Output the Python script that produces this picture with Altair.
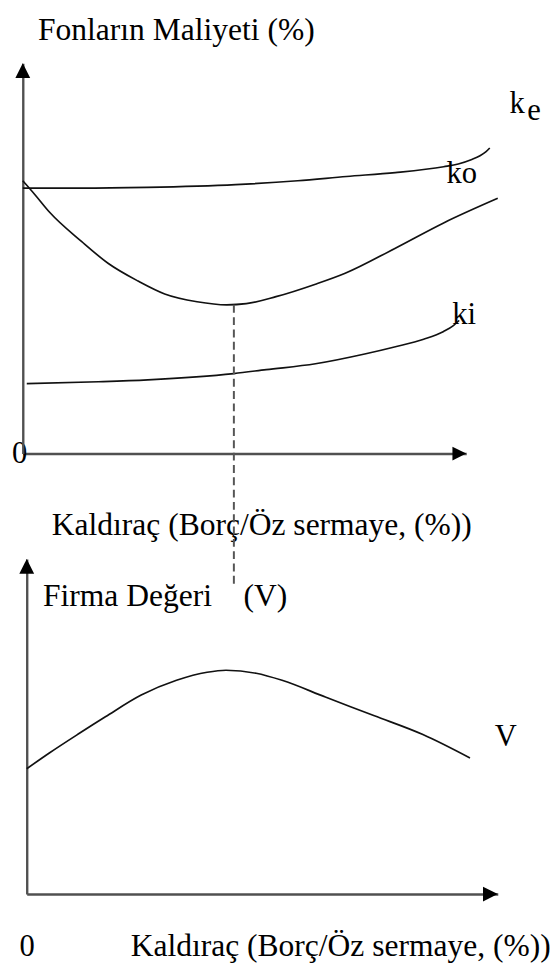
import altair as alt
import pandas as pd

# ---------------- data ----------------
# Top panel: leverage (0-100 along the x axis) vs cost of funds (0-100 up the y axis)
ke_x = [0, 13, 28, 48, 62, 73, 84, 94.9, 98.2, 101.1, 103.1, 104.4, 105.3]
ke_y = [68, 68, 68.2, 68.9, 69.9, 71, 72, 73.5, 74.2, 75.3, 76.3, 77.3, 78.3]

ko_x = [0, 2.7, 6, 13.3, 19.3, 26, 32, 39.3, 46, 50.4, 57.1, 66, 72.7, 83.8, 94.9, 107.1]
ko_y = [69.9, 66.4, 61.9, 54.3, 48.7, 44.2, 40.9, 38.9, 38.1, 38.4, 40.2, 43.4, 46.2, 52.5, 59.1, 65.4]

ki_x = [0.9, 17.1, 28.2, 47.6, 54.9, 66, 77.1, 83.8, 90.4, 94.9, 97.1, 98.4]
ki_y = [17.9, 18.4, 18.9, 20.5, 21.5, 23.0, 25.5, 27.3, 29.3, 31.3, 32.8, 34.1]

# optimal leverage (dashed guide) and how far below the axis it runs
opt_x = [47.6]
opt_bottom = [-33.8]

# Bottom panel: leverage vs firm value
v_x = [0, 4.8, 11.1, 16.7, 24.3, 31.8, 38.3, 42.3, 48.7, 54.2, 63.4, 73.8, 84.1, 94.1]
v_y = [37.4, 42.1, 47.9, 52.9, 59.4, 63.8, 66.2, 66.8, 65.9, 63.8, 58.8, 53.2, 47.6, 40.6]

# text
title_top_y = "Fonların Maliyeti (%)"
title_x = "Kaldıraç (Borç/Öz sermaye, (%))"
title_bot_y = "Firma Değeri\u00a0\u00a0\u00a0\u00a0(V)"
zero_label = "0"

# ---------------- styling ----------------
FONT = "Liberation Serif"
AX_COLOR = "#505050"
LINE_COLOR = "#111111"

TOP_X_RANGE = [15, 465]
TOP_Y_RANGE = [445, 49]
BOT_X_RANGE = [19, 497]
BOT_Y_RANGE = [892, 552]
W, H = 551, 966

common_axis = dict(
    domain=True, domainColor=AX_COLOR, domainWidth=2.4,
    ticks=False, tickSize=0, grid=False,
    labelFont=FONT, labelFontSize=31, labelColor="black", labelFlush=False,
    titleFont=FONT, titleFontSize=32, titleFontWeight="normal", titleColor="black",
    titleAngle=0, titleAlign="left", titleBaseline="alphabetic",
)

top_x_axis = alt.Axis(orient="bottom", offset=TOP_Y_RANGE[0] - H, labels=False,
                      title=title_x, titleX=44, titleY=82, **common_axis)
top_y_axis = alt.Axis(orient="left", offset=-TOP_X_RANGE[0], values=[0],
                      labelExpr=f"'{zero_label}'", labelPadding=-4,
                      title=title_top_y, titleX=15, titleY=25, **common_axis)
bot_x_axis = alt.Axis(orient="bottom", offset=BOT_Y_RANGE[0] - H, values=[0],
                      labelExpr=f"'{zero_label}'", labelPadding=62, labelBaseline="alphabetic",
                      title=title_x, titleX=124, titleY=62, **common_axis)
bot_y_axis = alt.Axis(orient="left", offset=-BOT_X_RANGE[0], labels=False,
                      title=title_bot_y, titleX=16, titleY=599, **common_axis)


def tx(field="x"):
    return alt.X(field, type="quantitative",
                 scale=alt.Scale(domain=[0, 100], range=TOP_X_RANGE, nice=False, zero=False),
                 axis=top_x_axis)


def ty(field="y"):
    return alt.Y(field, type="quantitative",
                 scale=alt.Scale(domain=[0, 100], range=TOP_Y_RANGE, nice=False, zero=False),
                 axis=top_y_axis)


def bx(field="x"):
    return alt.X(field, type="quantitative",
                 scale=alt.Scale(domain=[0, 100], range=BOT_X_RANGE, nice=False, zero=False),
                 axis=bot_x_axis)


def by(field="y"):
    return alt.Y(field, type="quantitative",
                 scale=alt.Scale(domain=[0, 100], range=BOT_Y_RANGE, nice=False, zero=False),
                 axis=bot_y_axis)


# ---------------- tables ----------------
top_lines = pd.concat([
    pd.DataFrame({"x": ke_x, "y": ke_y, "s": "ke"}),
    pd.DataFrame({"x": ko_x, "y": ko_y, "s": "ko"}),
    pd.DataFrame({"x": ki_x, "y": ki_y, "s": "ki"}),
], ignore_index=True)
v_df = pd.DataFrame({"x": v_x, "y": v_y, "s": "V"})

dash_df = pd.DataFrame({"x": opt_x, "y": [min(ko_y)], "y2": opt_bottom})
x_tip = pd.DataFrame({"x": [100], "y": [0]})
y_tip = pd.DataFrame({"x": [0], "y": [100]})


def last_point(xs, ys, text):
    return pd.DataFrame({"x": [xs[-1]], "y": [ys[-1]], "t": [text]})


ARROW_RIGHT = "M0,0L-1,-0.5L-1,0.5Z"
ARROW_UP = "M0,0L-0.5,1L0.5,1Z"

line_style = dict(interpolate="monotone", strokeWidth=1.7, color=LINE_COLOR)
label_style = dict(align="left", baseline="alphabetic", font=FONT, fontSize=31, color="black")

# ---------------- top panel ----------------
top_curves = alt.Chart(top_lines).mark_line(**line_style).encode(x=tx(), y=ty(), detail="s:N")
top_dash = alt.Chart(dash_df).mark_rule(strokeDash=[8, 4.5], strokeWidth=2, color="#555555").encode(
    x=tx(), y=ty(), y2="y2")
top_arrow_x = alt.Chart(x_tip).mark_point(shape=ARROW_RIGHT, size=784, filled=True, opacity=1,
                                          color="black", strokeWidth=0).encode(x=tx(), y=ty())
top_arrow_y = alt.Chart(y_tip).mark_point(shape=ARROW_UP, size=900, filled=True, opacity=1,
                                          color="black", strokeWidth=0).encode(x=tx(), y=ty())
lab_k = alt.Chart(last_point(ke_x, ke_y, "k")).mark_text(dx=20, dy=-36, **label_style).encode(
    x=tx(), y=ty(), text="t")
lab_e = alt.Chart(last_point(ke_x, ke_y, "e")).mark_text(dx=38, dy=-28, **label_style).encode(
    x=tx(), y=ty(), text="t")
lab_ko = alt.Chart(last_point(ko_x, ko_y, "ko")).mark_text(dx=-52, dy=-16, **label_style).encode(
    x=tx(), y=ty(), text="t")
lab_ki = alt.Chart(last_point(ki_x, ki_y, "ki")).mark_text(dx=-7, dy=4, **label_style).encode(
    x=tx(), y=ty(), text="t")

top = alt.layer(top_curves, top_dash, top_arrow_x, top_arrow_y, lab_k, lab_e, lab_ko, lab_ki)

# ---------------- bottom panel ----------------
bot_curve = alt.Chart(v_df).mark_line(**line_style).encode(x=bx(), y=by(), detail="s:N")
bot_arrow_x = alt.Chart(x_tip).mark_point(shape=ARROW_RIGHT, size=900, filled=True, opacity=1,
                                          color="black", strokeWidth=0).encode(x=bx(), y=by())
bot_arrow_y = alt.Chart(y_tip).mark_point(shape=ARROW_UP, size=900, filled=True, opacity=1,
                                          color="black", strokeWidth=0).encode(x=bx(), y=by())
lab_v = alt.Chart(last_point(v_x, v_y, "V")).mark_text(dx=25, dy=-12, **label_style).encode(
    x=bx(), y=by(), text="t")

bottom = alt.layer(bot_curve, bot_arrow_x, bot_arrow_y, lab_v)

chart = alt.layer(top, bottom).resolve_scale(x="independent", y="independent").properties(
    width=W, height=H,
    autosize=alt.AutoSizeParams(type="none"),
    padding={"left": 0, "top": 0, "right": 0, "bottom": 0},
    background="white",
).configure_view(stroke=None)

chart.save("out.html", embed_options={"renderer": "svg", "actions": False})
